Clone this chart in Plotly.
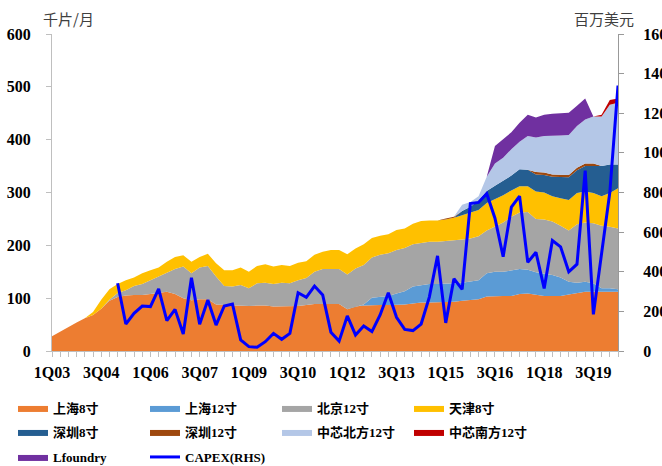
import plotly.graph_objects as go

# categories: quarters 1Q03 .. 2Q20
quarters = [f"{q}Q{y:02d}" for y in range(3, 21) for q in range(1, 5)][:70]
tick_labels = ["1Q03", "3Q04", "1Q06", "3Q07", "1Q09", "3Q10",
               "1Q12", "3Q13", "1Q15", "3Q16", "1Q18", "3Q19"]

# capacity, 千片/月 (left axis)
sh8 = [28, 37, 45, 54, 62, 68, 80, 95, 102, 105,
       106, 106, 108, 110, 112, 108, 100, 96, 98, 98,
       88, 87, 86, 86, 85, 86, 86, 84, 84, 84,
       85, 87, 89, 89, 89, 89, 79, 84, 86, 87,
       87, 87, 87, 88, 90, 92, 92, 92, 92, 93,
       95, 96, 98, 103, 104, 104, 104, 108, 109, 106,
       104, 104, 104, 107, 110, 112, 112, 112, 112, 112]
sh12 = [0] * 38 + [2, 14, 16, 17, 22, 25, 32, 33, 35, 35,
                   35, 35, 34, 35, 36, 44, 46, 46, 48, 47,
                   45, 43, 42, 40, 35, 24, 19, 19, 16, 7,
                   7, 5]
bj12 = [0] * 7 + [2, 8, 10, 17, 21, 26, 31, 35, 47, 60,
                  51, 60, 63, 53, 36, 36, 39, 34, 42, 43,
                  43, 45, 44, 49, 51, 61, 66, 66, 66, 66,
                  72, 75, 76, 79, 81, 82, 82, 80, 80, 80,
                  80, 81, 82, 82, 82, 83, 81, 86, 93, 102,
                  107, 109, 101, 103, 101, 98, 97, 111, 112, 114,
                  118, 116, 115]
tj8 = [0] * 5 + [6, 17, 20, 17, 19, 16, 20, 19, 17, 22,
                 23, 21, 22, 20, 23, 25, 30, 31, 33, 31,
                 33, 35, 33, 34, 33, 33, 32, 32, 33, 36,
                 36, 38, 38, 39, 37, 36, 36, 38, 37, 39,
                 41, 40, 40, 41, 42, 46, 49, 50, 52, 51,
                 52, 50, 50, 49, 52, 51, 48, 52, 58, 59,
                 59, 57, 56, 64, 76]
sz8 = [0] * 50 + [8, 11, 18, 23, 26, 27, 28, 32, 31, 32,
                  33, 37, 40, 43, 43, 48, 51, 57, 54, 45]
sz12 = [0] * 48 + [2, 2] + [0] * 9 + [5, 5, 4, 4, 4, 5, 5, 5] + [0] * 3
zxbf12 = [0] * 50 + [12, 9, 8, 27, 42, 44, 50, 52, 64, 65,
                     69, 73, 75, 76, 79, 83, 89, 94, 113, 117]
zxnf12 = [0] * 67 + [3, 9, 8]
lfoundry = [0] * 54 + [33, 35, 32, 36, 40, 38, 40, 42, 42, 42, 38, 40] + [0] * 4

# CAPEX, 百万美元 (right axis)
capex = [None] * 8 + [342, 136, 190, 227, 224, 313, 153, 210, 86, 370,
                      135, 257, 131, 227, 237, 56, 22, 19, 47, 89,
                      59, 89, 294, 271, 328, 283, 95, 50, 177, 81,
                      126, 98, 182, 294, 170, 109, 103, 136, 272, 480,
                      142, 365, 311, 744, 750, 794, 670, 476, 726, 782,
                      448, 498, 316, 558, 526, 400, 438, 910, 185, 500,
                      800, 1340]

series = [
    ("上海8寸", sh8, "#ED7D31", "legend"),
    ("上海12寸", sh12, "#5B9BD5", "legend"),
    ("北京12寸", bj12, "#A5A5A5", "legend"),
    ("天津8寸", tj8, "#FFC000", "legend"),
    ("深圳8寸", sz8, "#255E91", "legend2"),
    ("深圳12寸", sz12, "#9E480E", "legend2"),
    ("中芯北方12寸", zxbf12, "#B4C7E7", "legend2"),
    ("中芯南方12寸", zxnf12, "#C00000", "legend2"),
    ("Lfoundry", lfoundry, "#7030A0", "legend3"),
]

fig = go.Figure()
for name, vals, color, lg in series:
    fig.add_trace(go.Scatter(
        x=quarters, y=vals, name=name, mode="lines",
        stackgroup="one", line=dict(width=0, color=color),
        fillcolor=color, legend=lg, hoverinfo="skip"))

fig.add_trace(go.Scatter(
    x=quarters, y=capex, name="CAPEX(RHS)", mode="lines",
    line=dict(color="#0000FF", width=3), yaxis="y2", legend="legend3",
    connectgaps=False))

num_font = dict(family="Liberation Serif", size=16, color="black", weight="bold")
leg_font = dict(family="Liberation Serif, Noto Sans CJK SC", size=13,
                color="black", weight="bold")
cjk_font = dict(family="Noto Sans CJK SC", size=15, color="#404040")

ticktext = [q if q in tick_labels else "" for q in quarters]

def legend_cfg(ypx):
    return dict(orientation="h", x=(13 - 52) / 566, xanchor="left",
                y=(351 - ypx) / 317, yanchor="middle",
                entrywidth=87, entrywidthmode="pixels",
                traceorder="normal",
                font=leg_font, bgcolor="rgba(0,0,0,0)", borderwidth=0,
                itemclick=False)

fig.update_layout(
    width=662, height=466,
    margin=dict(l=52, r=44, t=34, b=115, autoexpand=False),
    paper_bgcolor="white", plot_bgcolor="white",
    showlegend=True,
    xaxis=dict(type="category", range=[0, 69], tickmode="array",
               tickvals=quarters, ticktext=ticktext, ticks="outside",
               ticklen=5, tickcolor="#BFBFBF", showline=True,
               linecolor="#BFBFBF", linewidth=1, showgrid=False,
               zeroline=False, tickfont=num_font, tickangle=0,
               ticklabelstandoff=2),
    yaxis=dict(range=[0, 600], dtick=100, ticks="outside", ticklen=5,
               tickcolor="#BFBFBF", showline=True, linecolor="#BFBFBF",
               linewidth=1, showgrid=False, zeroline=False,
               tickfont=num_font, ticklabelstandoff=12),
    yaxis2=dict(range=[0, 1600], dtick=200, overlaying="y", side="right",
                ticks="outside", ticklen=5, tickcolor="#999999",
                showline=True, linecolor="#999999", linewidth=1,
                showgrid=False, zeroline=False, tickfont=num_font,
                ticklabelstandoff=16),
    legend=legend_cfg(408),
    legend2=legend_cfg(432),
    legend3=legend_cfg(457),
    annotations=[
        dict(text="千片/月", xref="paper", yref="paper",
             x=(68 - 52) / 566, y=(351 - 18) / 317, showarrow=False,
             xanchor="center", yanchor="middle", font=cjk_font),
        dict(text="百万美元", xref="paper", yref="paper",
             x=(604 - 52) / 566, y=(351 - 18) / 317, showarrow=False,
             xanchor="center", yanchor="middle", font=cjk_font),
    ],
)

fig.write_html("out.html", config={"displayModeBar": False},
               post_script="document.body.style.margin='0';")
